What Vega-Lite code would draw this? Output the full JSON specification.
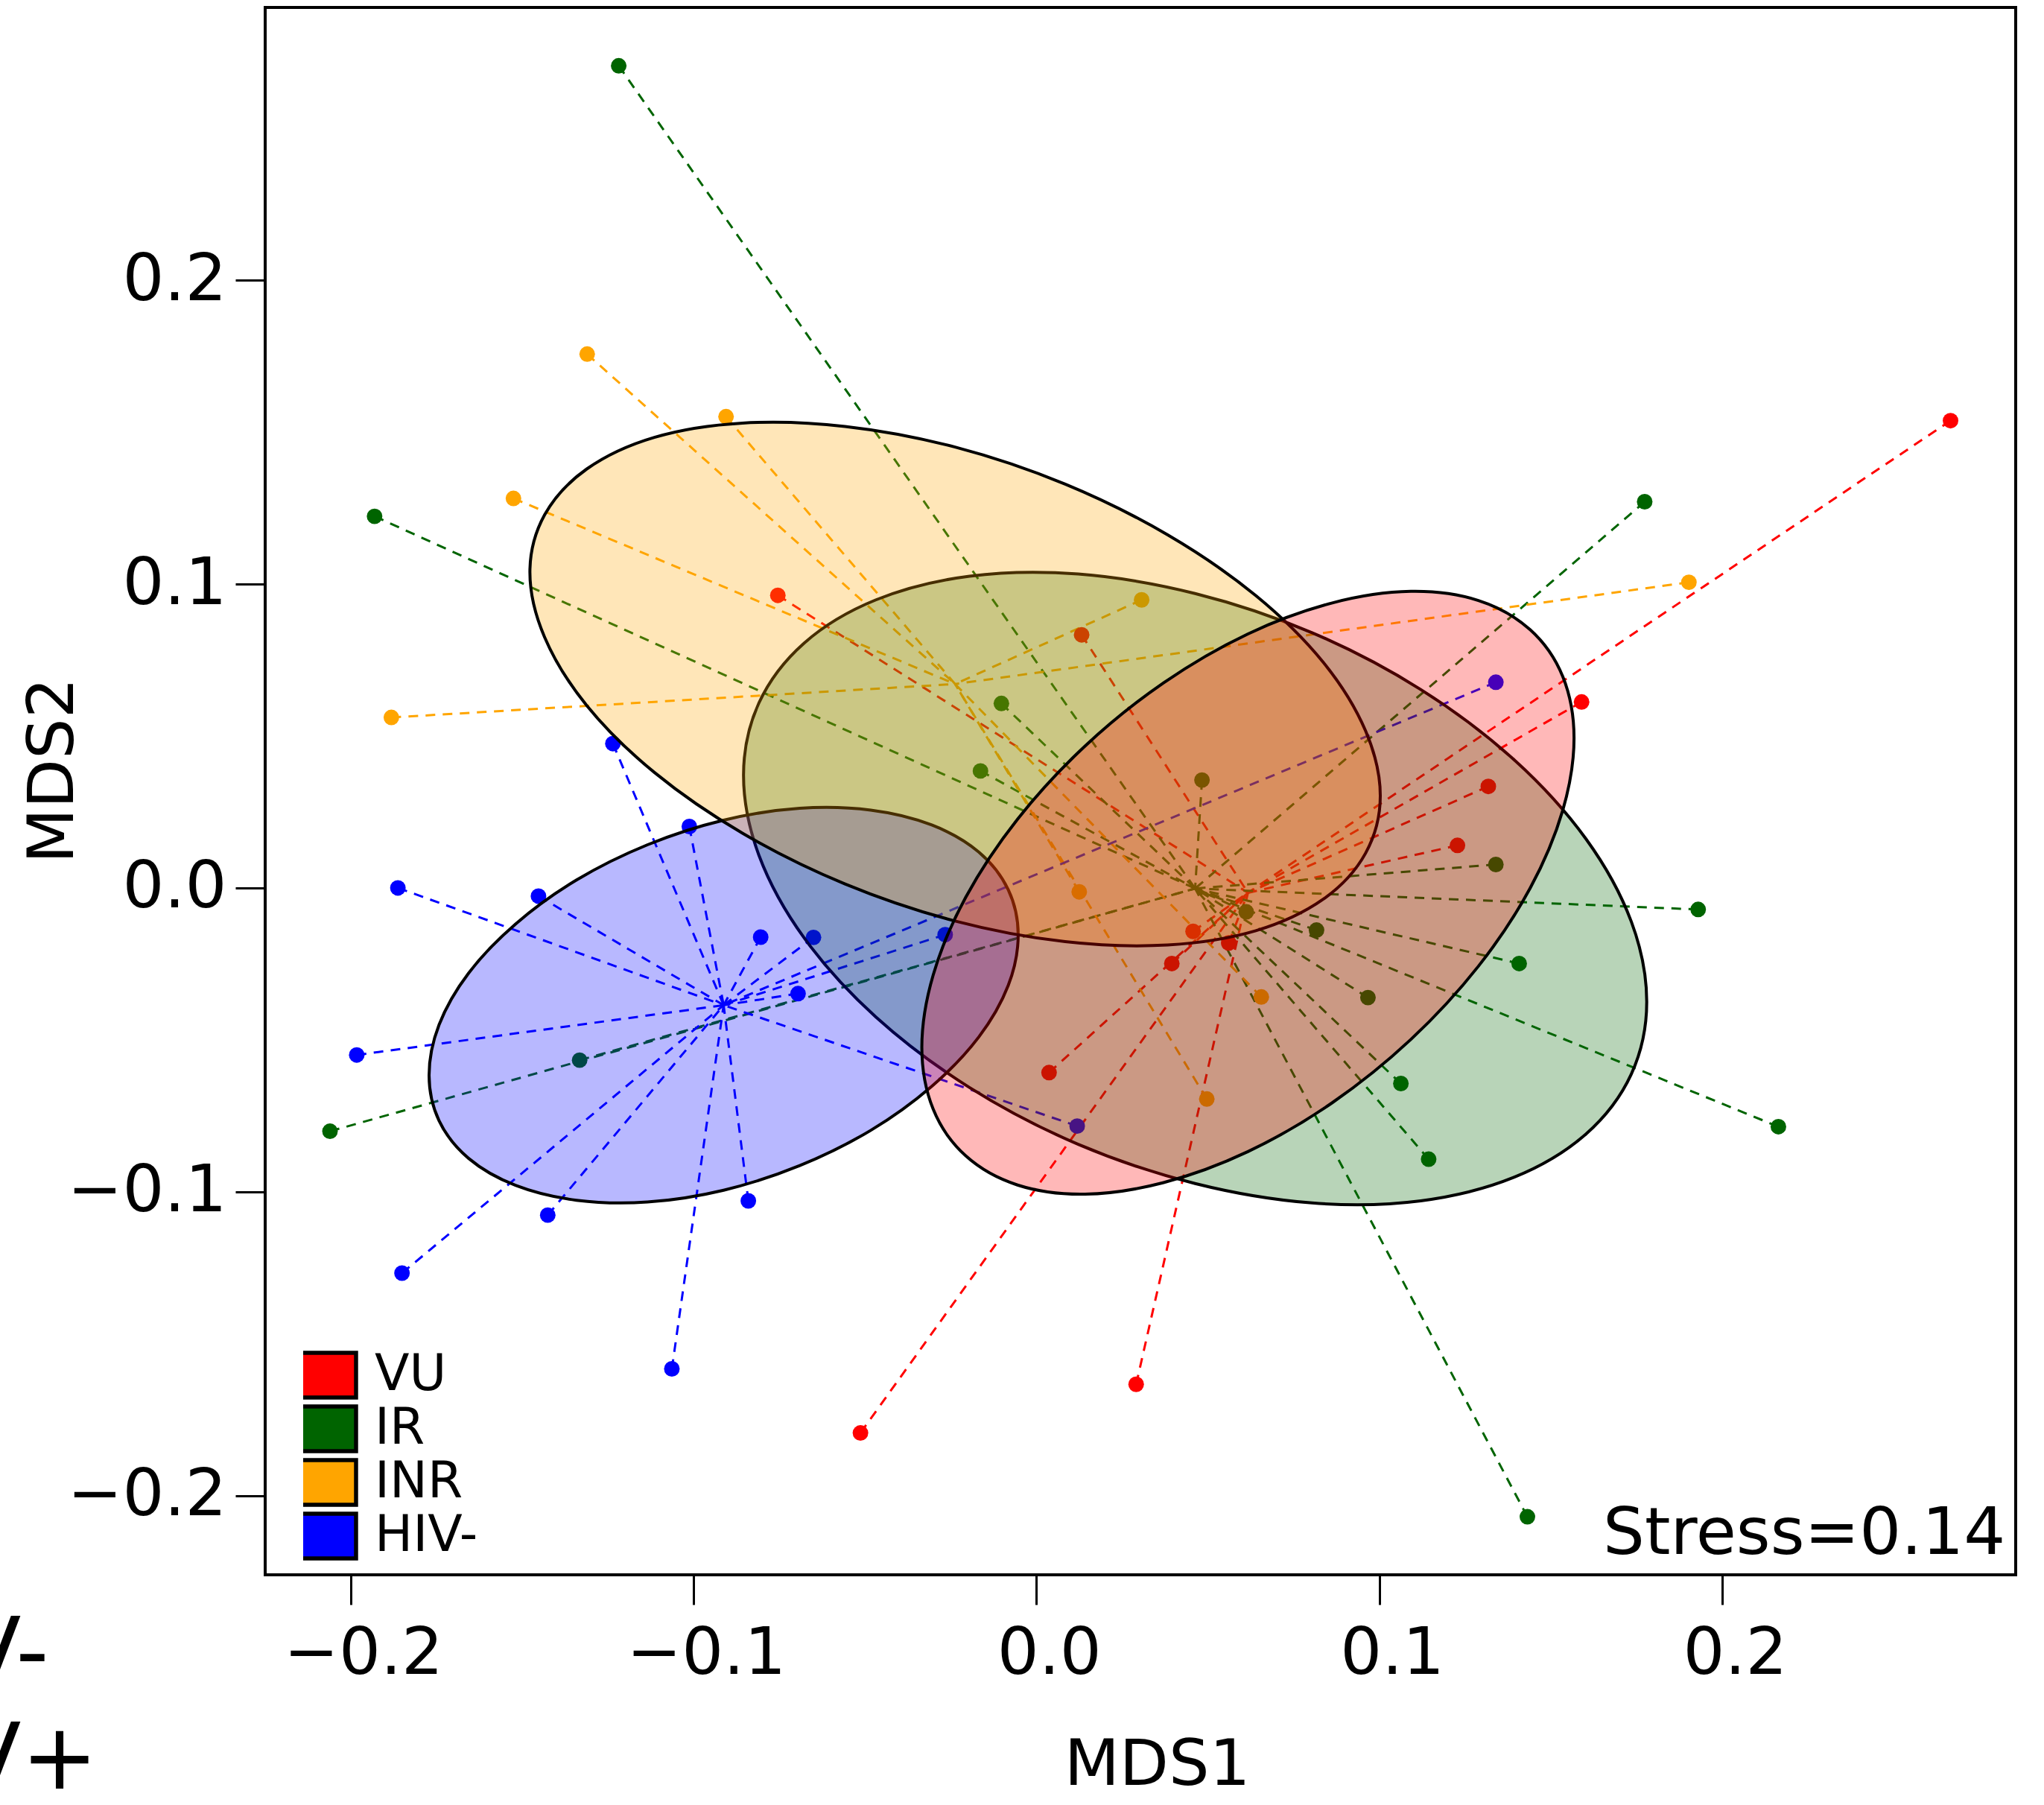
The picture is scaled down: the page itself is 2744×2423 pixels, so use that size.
{
  "$schema": "https://vega.github.io/schema/vega-lite/v6.json",
  "width": 2350,
  "height": 2104,
  "autosize": {"type": "none"},
  "padding": {"left": 356, "top": 10, "right": 38, "bottom": 309},
  "background": "white",
  "config": {"font": "DejaVu Sans", "view": {"stroke": "black", "strokeWidth": 4}},
  "datasets": {
    "pts": [
      {"g":"VU","x":0.2666,"y":0.1538,"cx":0.0617,"cy":-0.0016},
      {"g":"VU","x":-0.0754,"y":0.0963,"cx":0.0617,"cy":-0.0016},
      {"g":"VU","x":0.0132,"y":0.0833,"cx":0.0617,"cy":-0.0016},
      {"g":"VU","x":0.1590,"y":0.0612,"cx":0.0617,"cy":-0.0016},
      {"g":"VU","x":0.1318,"y":0.0334,"cx":0.0617,"cy":-0.0016},
      {"g":"VU","x":0.1228,"y":0.0140,"cx":0.0617,"cy":-0.0016},
      {"g":"VU","x":0.0457,"y":-0.0143,"cx":0.0617,"cy":-0.0016},
      {"g":"VU","x":0.0561,"y":-0.0181,"cx":0.0617,"cy":-0.0016},
      {"g":"VU","x":0.0395,"y":-0.0249,"cx":0.0617,"cy":-0.0016},
      {"g":"VU","x":0.0037,"y":-0.0608,"cx":0.0617,"cy":-0.0016},
      {"g":"VU","x":0.0291,"y":-0.1634,"cx":0.0617,"cy":-0.0016},
      {"g":"VU","x":-0.0513,"y":-0.1794,"cx":0.0617,"cy":-0.0016},
      {"g":"IR","x":-0.1218,"y":0.2706,"cx":0.0463,"cy":-0.0002},
      {"g":"IR","x":-0.1930,"y":0.1223,"cx":0.0463,"cy":-0.0002},
      {"g":"IR","x":0.1774,"y":0.1271,"cx":0.0463,"cy":-0.0002},
      {"g":"IR","x":-0.0102,"y":0.0607,"cx":0.0463,"cy":-0.0002},
      {"g":"IR","x":-0.0163,"y":0.0385,"cx":0.0463,"cy":-0.0002},
      {"g":"IR","x":0.0483,"y":0.0355,"cx":0.0463,"cy":-0.0002},
      {"g":"IR","x":0.0612,"y":-0.0079,"cx":0.0463,"cy":-0.0002},
      {"g":"IR","x":0.0817,"y":-0.0139,"cx":0.0463,"cy":-0.0002},
      {"g":"IR","x":0.0967,"y":-0.0361,"cx":0.0463,"cy":-0.0002},
      {"g":"IR","x":0.1063,"y":-0.0644,"cx":0.0463,"cy":-0.0002},
      {"g":"IR","x":0.1144,"y":-0.0893,"cx":0.0463,"cy":-0.0002},
      {"g":"IR","x":0.1340,"y":0.0077,"cx":0.0463,"cy":-0.0002},
      {"g":"IR","x":0.1930,"y":-0.0071,"cx":0.0463,"cy":-0.0002},
      {"g":"IR","x":0.1408,"y":-0.0249,"cx":0.0463,"cy":-0.0002},
      {"g":"IR","x":0.2164,"y":-0.0786,"cx":0.0463,"cy":-0.0002},
      {"g":"IR","x":0.1432,"y":-0.2070,"cx":0.0463,"cy":-0.0002},
      {"g":"IR","x":-0.1332,"y":-0.0567,"cx":0.0463,"cy":-0.0002},
      {"g":"IR","x":-0.2060,"y":-0.0801,"cx":0.0463,"cy":-0.0002},
      {"g":"INR","x":-0.1310,"y":0.1757,"cx":-0.0237,"cy":0.0671},
      {"g":"INR","x":-0.0905,"y":0.1551,"cx":-0.0237,"cy":0.0671},
      {"g":"INR","x":-0.1525,"y":0.1282,"cx":-0.0237,"cy":0.0671},
      {"g":"INR","x":-0.1881,"y":0.0561,"cx":-0.0237,"cy":0.0671},
      {"g":"INR","x":0.0307,"y":0.0948,"cx":-0.0237,"cy":0.0671},
      {"g":"INR","x":0.1903,"y":0.1006,"cx":-0.0237,"cy":0.0671},
      {"g":"INR","x":0.0125,"y":-0.0013,"cx":-0.0237,"cy":0.0671},
      {"g":"INR","x":0.0656,"y":-0.0359,"cx":-0.0237,"cy":0.0671},
      {"g":"INR","x":0.0497,"y":-0.0695,"cx":-0.0237,"cy":0.0671},
      {"g":"HIV-","x":-0.1235,"y":0.0475,"cx":-0.0912,"cy":-0.0386},
      {"g":"HIV-","x":-0.1012,"y":0.0202,"cx":-0.0912,"cy":-0.0386},
      {"g":"HIV-","x":-0.1862,"y":0.0000,"cx":-0.0912,"cy":-0.0386},
      {"g":"HIV-","x":-0.1452,"y":-0.0027,"cx":-0.0912,"cy":-0.0386},
      {"g":"HIV-","x":-0.0804,"y":-0.0162,"cx":-0.0912,"cy":-0.0386},
      {"g":"HIV-","x":-0.0650,"y":-0.0163,"cx":-0.0912,"cy":-0.0386},
      {"g":"HIV-","x":-0.0695,"y":-0.0348,"cx":-0.0912,"cy":-0.0386},
      {"g":"HIV-","x":-0.1982,"y":-0.0550,"cx":-0.0912,"cy":-0.0386},
      {"g":"HIV-","x":-0.1425,"y":-0.1077,"cx":-0.0912,"cy":-0.0386},
      {"g":"HIV-","x":-0.0840,"y":-0.1030,"cx":-0.0912,"cy":-0.0386},
      {"g":"HIV-","x":-0.1850,"y":-0.1268,"cx":-0.0912,"cy":-0.0386},
      {"g":"HIV-","x":-0.1063,"y":-0.1583,"cx":-0.0912,"cy":-0.0386},
      {"g":"HIV-","x":-0.0266,"y":-0.0154,"cx":-0.0912,"cy":-0.0386},
      {"g":"HIV-","x":0.0119,"y":-0.0784,"cx":-0.0912,"cy":-0.0386},
      {"g":"HIV-","x":0.1340,"y":0.0677,"cx":-0.0912,"cy":-0.0386}
    ],
    "ell": [
      {"g":"INR","o":0,"x":0.1003,"y":0.0303},{"g":"INR","o":1,"x":0.0960,"y":0.0114},{"g":"INR","o":2,"x":0.0837,"y":-0.0037},{"g":"INR","o":3,"x":0.0640,"y":-0.0141},
      {"g":"INR","o":4,"x":0.0383,"y":-0.0188},{"g":"INR","o":5,"x":0.0084,"y":-0.0177},{"g":"INR","o":6,"x":-0.0237,"y":-0.0109},{"g":"INR","o":7,"x":-0.0558,"y":0.0013},
      {"g":"INR","o":8,"x":-0.0857,"y":0.0180},{"g":"INR","o":9,"x":-0.1114,"y":0.0380},{"g":"INR","o":10,"x":-0.1311,"y":0.0600},{"g":"INR","o":11,"x":-0.1434,"y":0.0825},
      {"g":"INR","o":12,"x":-0.1477,"y":0.1039},{"g":"INR","o":13,"x":-0.1434,"y":0.1228},{"g":"INR","o":14,"x":-0.1311,"y":0.1379},{"g":"INR","o":15,"x":-0.1114,"y":0.1483},
      {"g":"INR","o":16,"x":-0.0857,"y":0.1530},{"g":"INR","o":17,"x":-0.0558,"y":0.1519},{"g":"INR","o":18,"x":-0.0237,"y":0.1451},{"g":"INR","o":19,"x":0.0084,"y":0.1329},
      {"g":"INR","o":20,"x":0.0383,"y":0.1162},{"g":"INR","o":21,"x":0.0640,"y":0.0962},{"g":"INR","o":22,"x":0.0837,"y":0.0742},{"g":"INR","o":23,"x":0.0960,"y":0.0517},
      {"g":"IR","o":0,"x":0.1780,"y":-0.0375},{"g":"IR","o":1,"x":0.1735,"y":-0.0613},{"g":"IR","o":2,"x":0.1603,"y":-0.0810},{"g":"IR","o":3,"x":0.1394,"y":-0.0952},
      {"g":"IR","o":4,"x":0.1121,"y":-0.1030},{"g":"IR","o":5,"x":0.0804,"y":-0.1037},{"g":"IR","o":6,"x":0.0463,"y":-0.0973},{"g":"IR","o":7,"x":0.0122,"y":-0.0844},
      {"g":"IR","o":8,"x":-0.0195,"y":-0.0657},{"g":"IR","o":9,"x":-0.0468,"y":-0.0425},{"g":"IR","o":10,"x":-0.0677,"y":-0.0165},{"g":"IR","o":11,"x":-0.0809,"y":0.0107},
      {"g":"IR","o":12,"x":-0.0854,"y":0.0371},{"g":"IR","o":13,"x":-0.0809,"y":0.0609},{"g":"IR","o":14,"x":-0.0677,"y":0.0806},{"g":"IR","o":15,"x":-0.0468,"y":0.0948},
      {"g":"IR","o":16,"x":-0.0195,"y":0.1026},{"g":"IR","o":17,"x":0.0122,"y":0.1033},{"g":"IR","o":18,"x":0.0463,"y":0.0969},{"g":"IR","o":19,"x":0.0804,"y":0.0840},
      {"g":"IR","o":20,"x":0.1121,"y":0.0653},{"g":"IR","o":21,"x":0.1394,"y":0.0421},{"g":"IR","o":22,"x":0.1603,"y":0.0161},{"g":"IR","o":23,"x":0.1735,"y":-0.0111},
      {"g":"VU","o":0,"x":0.1568,"y":0.0493},{"g":"VU","o":1,"x":0.1535,"y":0.0255},{"g":"VU","o":2,"x":0.1440,"y":-0.0001},{"g":"VU","o":3,"x":0.1289,"y":-0.0258},
      {"g":"VU","o":4,"x":0.1092,"y":-0.0499},{"g":"VU","o":5,"x":0.0863,"y":-0.0707},{"g":"VU","o":6,"x":0.0617,"y":-0.0868},{"g":"VU","o":7,"x":0.0371,"y":-0.0970},
      {"g":"VU","o":8,"x":0.0142,"y":-0.1008},{"g":"VU","o":9,"x":-0.0055,"y":-0.0978},{"g":"VU","o":10,"x":-0.0206,"y":-0.0882},{"g":"VU","o":11,"x":-0.0301,"y":-0.0728},
      {"g":"VU","o":12,"x":-0.0334,"y":-0.0525},{"g":"VU","o":13,"x":-0.0301,"y":-0.0287},{"g":"VU","o":14,"x":-0.0206,"y":-0.0031},{"g":"VU","o":15,"x":-0.0055,"y":0.0226},
      {"g":"VU","o":16,"x":0.0142,"y":0.0467},{"g":"VU","o":17,"x":0.0371,"y":0.0675},{"g":"VU","o":18,"x":0.0617,"y":0.0836},{"g":"VU","o":19,"x":0.0863,"y":0.0938},
      {"g":"VU","o":20,"x":0.1092,"y":0.0976},{"g":"VU","o":21,"x":0.1289,"y":0.0946},{"g":"VU","o":22,"x":0.1440,"y":0.0850},{"g":"VU","o":23,"x":0.1535,"y":0.0696},
      {"g":"HIV-","o":0,"x":-0.0053,"y":-0.0155},{"g":"HIV-","o":1,"x":-0.0082,"y":-0.0321},{"g":"HIV-","o":2,"x":-0.0168,"y":-0.0491},{"g":"HIV-","o":3,"x":-0.0305,"y":-0.0653},
      {"g":"HIV-","o":4,"x":-0.0483,"y":-0.0798},{"g":"HIV-","o":5,"x":-0.0690,"y":-0.0914},{"g":"HIV-","o":6,"x":-0.0912,"y":-0.0995},{"g":"HIV-","o":7,"x":-0.1134,"y":-0.1034},
      {"g":"HIV-","o":8,"x":-0.1341,"y":-0.1028},{"g":"HIV-","o":9,"x":-0.1519,"y":-0.0979},{"g":"HIV-","o":10,"x":-0.1656,"y":-0.0890},{"g":"HIV-","o":11,"x":-0.1742,"y":-0.0766},
      {"g":"HIV-","o":12,"x":-0.1771,"y":-0.0617},{"g":"HIV-","o":13,"x":-0.1742,"y":-0.0451},{"g":"HIV-","o":14,"x":-0.1656,"y":-0.0281},{"g":"HIV-","o":15,"x":-0.1519,"y":-0.0119},
      {"g":"HIV-","o":16,"x":-0.1341,"y":0.0026},{"g":"HIV-","o":17,"x":-0.1134,"y":0.0142},{"g":"HIV-","o":18,"x":-0.0912,"y":0.0223},{"g":"HIV-","o":19,"x":-0.0690,"y":0.0262},
      {"g":"HIV-","o":20,"x":-0.0483,"y":0.0256},{"g":"HIV-","o":21,"x":-0.0305,"y":0.0207},{"g":"HIV-","o":22,"x":-0.0168,"y":0.0118},{"g":"HIV-","o":23,"x":-0.0082,"y":-0.0006}
    ],
    "notes": [
      {"x":0.2826,"y":-0.2193,"t":"Stress=0.14","k":"stress"},
      {"x":-0.3423,"y":-0.2617,"t":"HIV-","k":"side"},
      {"x":-0.3423,"y":-0.2965,"t":"HIV+","k":"side"}
    ]
  },
  "encoding": {
    "x": {
      "field": "x", "type": "quantitative", "title": "MDS1",
      "scale": {"domain": [-0.2249, 0.2856], "nice": false, "zero": false},
      "axis": {
        "values": [-0.2, -0.1, 0, 0.1, 0.2], "format": ".1f", "domain": false, "grid": false,
        "tickSize": 40, "tickWidth": 3, "tickColor": "black",
        "labelFont": "DejaVu Sans", "labelFontSize": 88, "labelColor": "black", "labelLimit": 1000,
        "labelPadding": 22, "labelOffset": 17, "labelFlush": false, "labelOverlap": false,
        "titleFont": "DejaVu Sans", "titleFontSize": 86, "titleFontWeight": "normal", "titleColor": "black",
        "titleX": 1197, "titleY": 281, "titleBaseline": "alphabetic", "titleAlign": "center"
      }
    },
    "y": {
      "field": "y", "type": "quantitative", "title": "MDS2",
      "scale": {"domain": [-0.2261, 0.2898], "nice": false, "zero": false},
      "axis": {
        "values": [-0.2, -0.1, 0, 0.1, 0.2], "format": ".1f", "domain": false, "grid": false,
        "tickSize": 40, "tickWidth": 3, "tickColor": "black",
        "labelFont": "DejaVu Sans", "labelFontSize": 88, "labelColor": "black", "labelLimit": 1000,
        "labelPadding": 12, "labelFlush": false, "labelOverlap": false,
        "titleFont": "DejaVu Sans", "titleFontSize": 86, "titleFontWeight": "normal", "titleColor": "black",
        "titleX": -259, "titleY": 1024, "titleBaseline": "alphabetic", "titleAlign": "center", "titleAngle": 270
      }
    }
  },
  "layer": [
    {
      "data": {"name": "pts"},
      "mark": {"type": "rule", "strokeDash": [13, 10], "strokeWidth": 3},
      "encoding": {
        "x2": {"field": "cx"},
        "y2": {"field": "cy"},
        "stroke": {"field": "g", "type": "nominal",
          "scale": {"domain": ["HIV-", "INR", "IR", "VU"], "range": ["#0000FF", "#FFA500", "#006400", "#FF0000"]},
          "legend": null}
      }
    },
    {
      "data": {"name": "pts"},
      "mark": {"type": "circle", "size": 440, "opacity": 1},
      "encoding": {
        "color": {"field": "g", "type": "nominal",
          "scale": {"domain": ["VU", "IR", "INR", "HIV-"], "range": ["#FF0000", "#006400", "#FFA500", "#0000FF"]},
          "legend": {
            "title": null, "orient": "none", "legendX": 51, "legendY": 1800, "padding": 0,
            "symbolType": "M-1.233,-1H1.233V1H-1.233Z", "symbolSize": 3600,
            "symbolStrokeColor": "black", "symbolStrokeWidth": 5.5, "symbolOpacity": 1,
            "labelFont": "DejaVu Sans", "labelFontSize": 68, "labelColor": "black",
            "labelOffset": 28, "rowPadding": 0, "clipHeight": 72, "labelLimit": 1000,
            "encode": {"symbols": {"update": {
              "stroke": {"value": "black"},
              "strokeWidth": {"value": 5.5},
              "fill": {"signal": "datum.value === 'IR' ? '#008000' : scale('color', datum.value)"}
            }}}
          }
        }
      }
    },
    {
      "data": {"name": "ell"},
      "transform": [{"filter": "datum.g === 'IR'"}],
      "mark": {"type": "line", "interpolate": "cardinal-closed", "fill": "#006400", "fillOpacity": 0.28, "stroke": "black", "strokeWidth": 4},
      "encoding": {"order": {"field": "o", "type": "quantitative"}}
    },
    {
      "data": {"name": "ell"},
      "transform": [{"filter": "datum.g === 'HIV-'"}],
      "mark": {"type": "line", "interpolate": "cardinal-closed", "fill": "#0000FF", "fillOpacity": 0.28, "stroke": "black", "strokeWidth": 4},
      "encoding": {"order": {"field": "o", "type": "quantitative"}}
    },
    {
      "data": {"name": "ell"},
      "transform": [{"filter": "datum.g === 'INR'"}],
      "mark": {"type": "line", "interpolate": "cardinal-closed", "fill": "#FFA500", "fillOpacity": 0.28, "stroke": "black", "strokeWidth": 4},
      "encoding": {"order": {"field": "o", "type": "quantitative"}}
    },
    {
      "data": {"name": "ell"},
      "transform": [{"filter": "datum.g === 'VU'"}],
      "mark": {"type": "line", "interpolate": "cardinal-closed", "fill": "#FF0000", "fillOpacity": 0.28, "stroke": "black", "strokeWidth": 4},
      "encoding": {"order": {"field": "o", "type": "quantitative"}}
    },
    {
      "data": {"name": "notes"},
      "transform": [{"filter": "datum.k === 'stress'"}],
      "mark": {"type": "text", "align": "right", "baseline": "alphabetic", "fontSize": 88, "font": "DejaVu Sans", "color": "black"},
      "encoding": {"text": {"field": "t"}}
    },
    {
      "data": {"name": "notes"},
      "transform": [{"filter": "datum.k === 'side'"}],
      "mark": {"type": "text", "align": "left", "baseline": "alphabetic", "fontSize": 123, "font": "DejaVu Sans", "color": "black"},
      "encoding": {"text": {"field": "t"}}
    }
  ]
}
